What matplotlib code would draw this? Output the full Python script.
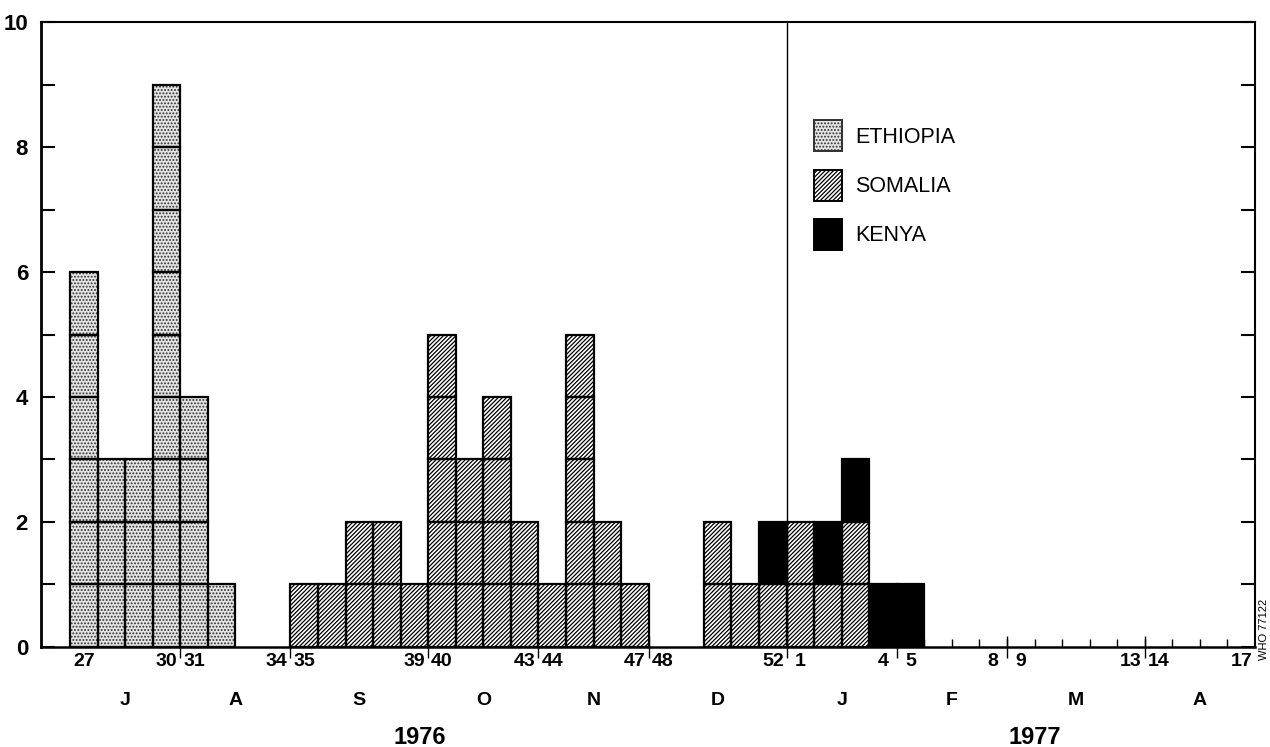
import numpy as np
import matplotlib
matplotlib.use("Agg")
import matplotlib.pyplot as plt
from matplotlib import font_manager
from matplotlib.patches import Patch

# ---------------- data ----------------
weeks_1976 = list(range(27, 53))
weeks_1977 = list(range(1, 18))

ethiopia_1976 = [6, 3, 3, 9, 4, 1, 0, 0, 0, 0, 0, 0, 0, 0, 0, 0, 0, 0, 0, 0, 0, 0, 0, 0, 0, 0]
ethiopia_1977 = [0] * 17
somalia_1976 = [0, 0, 0, 0, 0, 0, 0, 0, 1, 1, 2, 2, 1, 5, 3, 4, 2, 1, 5, 2, 1, 0, 0, 2, 1, 1]
somalia_1977 = [2, 1, 2, 0, 0, 0, 0, 0, 0, 0, 0, 0, 0, 0, 0, 0, 0]
kenya_1976 = [0] * 25 + [1]
kenya_1977 = [0, 1, 1, 1, 1, 0, 0, 0, 0, 0, 0, 0, 0, 0, 0, 0, 0]

labelled_weeks = [(1976, 27), (1976, 30), (1976, 31), (1976, 34), (1976, 35), (1976, 39),
                  (1976, 40), (1976, 43), (1976, 44), (1976, 47), (1976, 48), (1976, 52),
                  (1977, 1), (1977, 4), (1977, 5), (1977, 8), (1977, 9), (1977, 13),
                  (1977, 14), (1977, 17)]
month_names = ["J", "A", "S", "O", "N", "D", "J", "F", "M", "A"]
month_last_week = [(1976, 30), (1976, 34), (1976, 39), (1976, 43), (1976, 47), (1976, 52),
                   (1977, 4), (1977, 8), (1977, 13), (1977, 17)]
year_labels = ["1976", "1977"]
year_label_pos = [12.2, 34.5]
countries = ["ETHIOPIA", "SOMALIA", "KENYA"]

# ---------------- helpers ----------------
all_weeks = [(1976, w) for w in weeks_1976] + [(1977, w) for w in weeks_1977]
idx_of = {yw: i for i, yw in enumerate(all_weeks)}
x = np.arange(len(all_weeks))

eth = np.array(ethiopia_1976 + ethiopia_1977)
som = np.array(somalia_1976 + somalia_1977)
ken = np.array(kenya_1976 + kenya_1977)


def pick_font(names):
    for n in names:
        try:
            font_manager.findfont(font_manager.FontProperties(family=n), fallback_to_default=False)
            return n
        except Exception:
            continue
    return "DejaVu Sans"


FONT = pick_font(["Liberation Sans Narrow", "Liberation Sans", "DejaVu Sans"])
plt.rcParams["font.family"] = [FONT, "DejaVu Sans"]
plt.rcParams["hatch.linewidth"] = 0.9

fig = plt.figure(figsize=(12.7, 7.47), dpi=100)
ax = fig.add_axes([0.0319, 0.1339, 0.9563, 0.8366])

SOM_HATCH = "////////"
styles = {
    "ETHIOPIA": dict(facecolor="#e4e4e4", hatch_color="#303030", hatch="....."),
    "SOMALIA": dict(facecolor="white", hatch_color="black", hatch=SOM_HATCH),
    "KENYA": dict(facecolor="black", hatch_color="black", hatch=None),
}

base = np.zeros(len(x))
for name, counts in zip(countries, [eth, som, ken]):
    st = styles[name]
    for k in range(int(counts.max())):
        m = counts > k
        if not m.any():
            continue
        # fill / texture layer
        ax.bar(x[m], 1, bottom=base[m] + k, width=1.0, facecolor=st["facecolor"],
               edgecolor=st["hatch_color"], hatch=st["hatch"], linewidth=0, zorder=2)
        # cell outline
        ax.bar(x[m], 1, bottom=base[m] + k, width=1.0, fill=False,
               edgecolor="black", linewidth=1.6, zorder=3)
    base = base + counts

# year divider
divider = idx_of[(1977, 1)] - 0.5
ax.axvline(divider, color="black", linewidth=1.0, zorder=4)

ax.set_xlim(-1.57, len(x) - 0.5)
ax.set_ylim(0, 10)

# y axis
ax.set_yticks(np.arange(0, 11, 2))
ax.set_yticks(np.arange(0, 11, 1), minor=True)
ax.tick_params(axis="y", which="both", direction="in", length=10, width=1.5,
               left=True, right=True, labelsize=16, pad=9)
for lab in ax.get_yticklabels():
    lab.set_fontweight("bold")

# x axis: labels at week centres, month boundary ticks
ax.set_xticks([idx_of[w] for w in labelled_weeks])
ax.set_xticklabels([str(w[1]) for w in labelled_weeks], fontsize=14, fontweight="bold")
ax.tick_params(axis="x", which="major", length=0, pad=4)
month_bounds = [idx_of[w] + 0.5 for w in month_last_week[:-1]]
ax.set_xticks(month_bounds, minor=True)
ax.tick_params(axis="x", which="minor", direction="inout", length=16, width=1.0)

# small inward weekly ticks in the empty 1977 part
sec = ax.secondary_xaxis("bottom")
week_bounds = [idx_of[(1977, w)] + 0.5 for w in range(5, 17)]
sec.set_xticks(week_bounds)
sec.tick_params(axis="x", direction="in", length=6, width=1.0, labelbottom=False)
sec.spines["bottom"].set_visible(False)

ax.spines["left"].set_linewidth(2.0)
ax.spines["bottom"].set_linewidth(1.8)
ax.spines["top"].set_linewidth(1.5)
ax.spines["right"].set_linewidth(1.5)

# month letters
trans = ax.get_xaxis_transform()
prev = -0.5
for name, last in zip(month_names, month_last_week):
    end = idx_of[last] + 0.5
    ax.text((prev + end) / 2, -0.085, name, transform=trans, ha="center", va="center",
            fontsize=14, fontweight="bold")
    prev = end

for lab, pos in zip(year_labels, year_label_pos):
    ax.text(pos, -0.145, lab, transform=trans, ha="center", va="center",
            fontsize=17, fontweight="bold")

# legend
handles = [
    Patch(facecolor=styles["ETHIOPIA"]["facecolor"], edgecolor="#303030",
          hatch=styles["ETHIOPIA"]["hatch"], linewidth=1.4),
    Patch(facecolor="white", edgecolor="black", hatch=SOM_HATCH, linewidth=1.4),
    Patch(facecolor="black", edgecolor="black", linewidth=1.4),
]
ax.legend(handles, countries, loc="upper left", bbox_to_anchor=(0.637, 0.843),
          frameon=False, fontsize=15.5, handlelength=1.3, handleheight=1.86,
          labelspacing=0.84, handletextpad=0.6, borderpad=0, borderaxespad=0)

fig.text(0.9955, 0.157, "WHO 77122", rotation=90, ha="center", va="center", fontsize=8)

fig.savefig("out.png", dpi=100)
